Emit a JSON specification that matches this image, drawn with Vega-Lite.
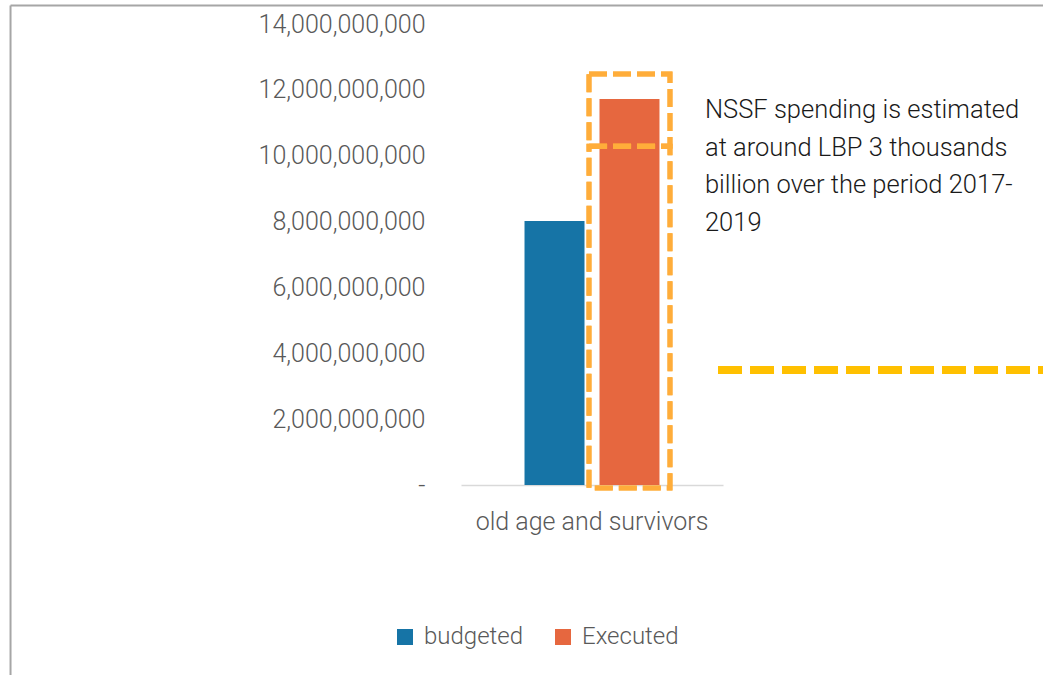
{
  "$schema": "https://vega.github.io/schema/vega-lite/v6.json",
  "width": 582,
  "height": 461,
  "autosize": {"type": "none"},
  "padding": {"left": 461, "top": 24, "right": 0, "bottom": 190},
  "background": "white",
  "config": {
    "view": {"stroke": null},
    "font": "Roboto",
    "axis": {"labelFontWeight": 300},
    "legend": {"labelFontWeight": 300}
  },
  "datasets": {
    "spending": [
      {"category": "old age and survivors", "series": "budgeted", "value": 8020000000},
      {"category": "old age and survivors", "series": "Executed", "value": 11720000000}
    ]
  },
  "layer": [
    {
      "data": {"name": "spending"},
      "layer": [
        {
          "mark": {"type": "bar"},
          "encoding": {
            "x": {
              "field": "category",
              "type": "nominal",
              "scale": {"range": [0, 262], "paddingInner": 0, "paddingOuter": 0},
              "axis": {
                "title": null,
                "labelAngle": 0,
                "labelFontSize": 25,
                "labelColor": "#595959",
                "labelPadding": 24,
                "labelLimit": 500,
                "ticks": false,
                "domainColor": "#d9d9d9",
                "domainWidth": 1.5
              }
            },
            "xOffset": {
              "field": "series",
              "type": "nominal",
              "sort": ["budgeted", "Executed"],
              "scale": {"paddingInner": 0.2, "paddingOuter": 0.847}
            },
            "y": {
              "field": "value",
              "type": "quantitative",
              "stack": null,
              "scale": {"domain": [0, 14000000000], "nice": false, "zero": true},
              "axis": {
                "title": null,
                "values": [0, 2000000000, 4000000000, 6000000000, 8000000000, 10000000000, 12000000000, 14000000000],
                "labelExpr": "datum.value == 0 ? '-' : format(datum.value, ',')",
                "labelFontSize": 25,
                "labelColor": "#595959",
                "labelPadding": 36,
                "labelLimit": 500,
                "ticks": false,
                "domain": false,
                "grid": false
              }
            },
            "color": {
              "field": "series",
              "type": "nominal",
              "sort": ["budgeted", "Executed"],
              "scale": {"domain": ["budgeted", "Executed"], "range": ["#1674A6", "#E6673F"]},
              "legend": {
                "title": null,
                "orient": "none",
                "direction": "horizontal",
                "legendX": -68,
                "legendY": 601,
                "symbolType": "square",
                "symbolSize": 256,
                "symbolStrokeWidth": 0,
                "labelFontSize": 24,
                "labelColor": "#595959",
                "labelOffset": 7,
                "columnPadding": 27
              }
            }
          }
        },
        {
          "mark": {"type": "bar", "width": 81, "filled": false, "stroke": "#FFAD3A", "strokeWidth": 5, "strokeDash": [18, 6]},
          "encoding": {
            "x": {"datum": "old age and survivors", "type": "nominal"},
            "xOffset": {"datum": "Executed", "type": "nominal"},
            "y": {"datum": 10290000000, "type": "quantitative"},
            "y2": {"datum": 12480000000}
          }
        },
        {
          "mark": {"type": "bar", "width": 81, "filled": false, "stroke": "#FFAD3A", "strokeWidth": 5, "strokeDash": [18, 6]},
          "encoding": {
            "x": {"datum": "old age and survivors", "type": "nominal"},
            "xOffset": {"datum": "Executed", "type": "nominal"},
            "y": {"datum": -90000000, "type": "quantitative"},
            "y2": {"datum": 10290000000}
          }
        }
      ]
    },
    {
      "data": {"values": [{}]},
      "layer": [
        {
          "mark": {"type": "rule", "color": "#FFC000", "strokeWidth": 8, "strokeDash": [24, 8]},
          "encoding": {
            "x": {"datum": 0.4416, "type": "quantitative", "scale": {"domain": [0, 1]}, "axis": null},
            "x2": {"datum": 1},
            "y": {"datum": 3490000000, "type": "quantitative"}
          }
        },
        {
          "mark": {"type": "text", "align": "left", "baseline": "alphabetic", "fontSize": 25.5, "fontWeight": 300, "lineHeight": 37.5, "color": "#1a1a1a"},
          "encoding": {
            "x": {"datum": 0.4192, "type": "quantitative", "scale": {"domain": [0, 1]}, "axis": null},
            "y": {"datum": 11145000000, "type": "quantitative"},
            "text": {"value": ["NSSF spending is estimated", "at around LBP 3 thousands", "billion over the period 2017-", "2019"]}
          }
        },
        {
          "mark": {"type": "rule", "color": "#A6A6A6", "strokeWidth": 2},
          "encoding": {
            "x": {"datum": -0.774, "type": "quantitative", "scale": {"domain": [0, 1]}, "axis": null},
            "x2": {"datum": 1},
            "y": {"datum": 14560000000, "type": "quantitative"}
          }
        },
        {
          "mark": {"type": "rule", "color": "#A6A6A6", "strokeWidth": 2},
          "encoding": {
            "x": {"datum": -0.774, "type": "quantitative", "scale": {"domain": [0, 1]}, "axis": null},
            "y": {"datum": 14560000000, "type": "quantitative"},
            "y2": {"datum": -5780000000}
          }
        }
      ]
    }
  ],
  "resolve": {"scale": {"x": "independent"}}
}
